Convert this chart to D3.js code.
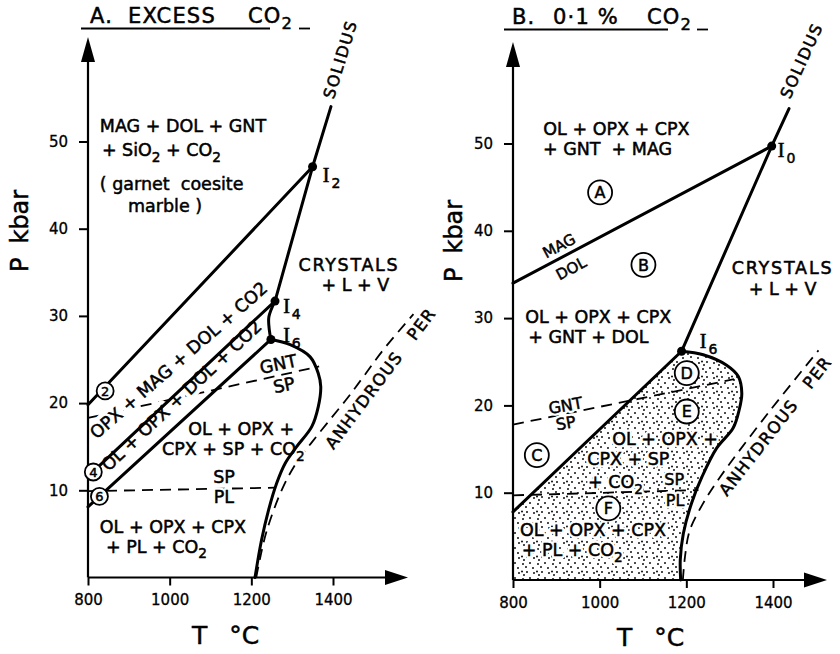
<!DOCTYPE html>
<html><head><meta charset="utf-8">
<script src="https://cdn.jsdelivr.net/npm/d3@7"></script>
<style>
body{margin:0;background:#fff}
svg{display:block;background:#fff}
text{font-family:"DejaVu Sans",sans-serif;fill:#000;white-space:pre}
.ink{stroke:#000;stroke-width:0.5}
.halo{fill:#fff;stroke:#fff;stroke-linejoin:round}
.solid{fill:none;stroke:#000;stroke-width:3;stroke-linejoin:round;stroke-linecap:round}
.dash{fill:none;stroke:#000;stroke-width:1.8;stroke-dasharray:11 7}
.ax{fill:none;stroke:#000;stroke-width:2.2}
</style></head><body>
<svg id="c" width="840" height="654"></svg>
<script>
// ---------- shared axes (T in °C, P in kbar) ----------
const tempTicks = [800, 1000, 1200, 1400];
const pressTicks = [10, 20, 30, 40, 50];

// ---------- A. excess CO2 ----------
const aSolidusUpper = [[1395, 54.0], [1350, 47.1], [1258, 31.7]];
const aSolidusKink  = [[1258, 31.7], [1243, 29.9], [1244, 28.4], [1248, 27.3]];
const aSolidusLower = [[1248, 27.3], [1295, 26.7], [1344, 25.3], [1364, 23.4], [1370, 21.9], [1364, 19.6],
                       [1348, 17.3], [1311, 15.0], [1283, 13.1], [1262, 10.8], [1242, 7.7], [1225, 4.3], [1209, 0]];
const aReaction2 = [[800, 19.8], [1350, 47.1]];
const aReaction4 = [[800, 11.6], [1258, 31.7]];
const aReaction6 = [[800, 8.1], [1248, 27.3]];
const aGntSp = [[800, 18.3], [1366, 24.2]];
const aSpPl  = [[800, 9.9], [1258, 10.3]];
const aAnhydrous = [[1212, 0], [1217, 1.2], [1238, 5.4], [1278, 10.4], [1315, 13.5], [1348, 15.5],
                    [1389, 17.9], [1434, 20.5], [1474, 23.0], [1523, 26.1], [1597, 30.2]];
const aInvariant = [{n: "2", T: 1350, P: 47.1, lT: 1375, lP: 45.4},
                    {n: "4", T: 1258, P: 31.7, lT: 1278, lP: 30.3},
                    {n: "6", T: 1248, P: 27.3, lT: 1278, lP: 27.0}];
const aCircled = [{t: "2", T: 842, P: 21.4}, {t: "4", T: 813, P: 12.1}, {t: "6", T: 828, P: 9.3}];
const aLabels = [
  {t: "MAG + DOL + GNT", T: 829, P: 51.1},
  {t: "+ SiO_2 + CO_2", T: 834, P: 48.3},
  {t: "( garnet  coesite", T: 829, P: 44.4},
  {t: "marble )", T: 898, P: 41.9},
  {t: "CRYSTALS", T: 1439, P: 35.1, a: "middle", ls: 1.7},
  {t: "+ L + V", T: 1455, P: 32.9, a: "middle"},
  {t: "OL + OPX +", T: 1175, P: 16.3, a: "middle"},
  {t: "CPX + SP + CO_2", T: 1156, P: 14.0, a: "middle"},
  {t: "SP", T: 1133, P: 10.8, a: "middle"},
  {t: "PL", T: 1133, P: 8.5, a: "middle"},
  {t: "OL + OPX + CPX", T: 829, P: 5.1},
  {t: "+ PL + CO_2", T: 844, P: 2.8},
  {t: "GNT", T: 1266, P: 24.5, a: "middle", mid: 1, r: -12},
  {t: "SP", T: 1280, P: 22.1, a: "middle", mid: 1, r: -12},
  {t: "OPX + MAG + DOL + CO2", T: 821, P: 15.8, r: -41, h: 9},
  {t: "OL + OPX + DOL + CO2", T: 850, P: 12.1, r: -43, h: 9},
  {t: "SOLIDUS", T: 1402, P: 54.8, r: -73, fs: 16, ls: 1.5},
  {t: "ANHYDROUS   PER", T: 1401, P: 14.6, r: -53, fs: 16.5, ls: 1.2, h: 3}
];

// ---------- B. 0.1 % CO2 ----------
const bSolidusUpper = [[1437, 54.0], [1397, 49.7], [1189, 26.2]];
const bSolidusLower = [[1189, 26.2], [1239, 25.8], [1293, 24.6], [1320, 23.3], [1328, 21.4], [1322, 19.5],
                       [1308, 17.4], [1270, 15.1], [1236, 11.8], [1212, 8.8], [1193, 5.3], [1186, 2.3], [1187, 0]];
const bMagDol = [[800, 34.0], [1397, 49.7]];
const bReactionC = [[800, 7.8], [1189, 26.2]];
const bGntSp = [[800, 17.8], [1310, 23.0]];
const bSpPl  = [[800, 9.7], [1228, 10.3]];
const bAnhydrous = [[1192, 0], [1197, 2.7], [1208, 5.7], [1239, 8.8], [1278, 11.8], [1390, 19.2], [1505, 26.3]];
const bInvariant = [{n: "0", T: 1397, P: 49.7, lT: 1411, lP: 48.5},
                    {n: "6", T: 1189, P: 26.2, lT: 1231, lP: 26.6}];
const bCircled = [{t: "A", T: 1001, P: 44.4}, {t: "B", T: 1101, P: 36.1}, {t: "C", T: 855, P: 14.3},
                  {t: "D", T: 1201, P: 23.7}, {t: "E", T: 1201, P: 19.3}, {t: "F", T: 1020, P: 8.2}];
const bLabels = [
  {t: "OL + OPX + CPX", T: 870, P: 51.0},
  {t: "+ GNT  + MAG", T: 869, P: 48.7},
  {t: "OL + OPX + CPX", T: 828, P: 29.4},
  {t: "+ GNT + DOL", T: 835, P: 27.1},
  {t: "CRYSTALS", T: 1422, P: 35.1, a: "middle", ls: 1.8},
  {t: "+ L + V", T: 1422, P: 32.7, a: "middle"},
  {t: "MAG", T: 906, P: 38.3, a: "middle", mid: 1, r: -28, fs: 15},
  {t: "DOL", T: 934, P: 35.7, a: "middle", mid: 1, r: -28, fs: 15},
  {t: "GNT", T: 921, P: 20.0, a: "middle", mid: 1, r: -10, fs: 16},
  {t: "SP", T: 922, P: 18.0, a: "middle", mid: 1, r: -10, fs: 16},
  {t: "OL + OPX +", T: 1151, P: 15.5, a: "middle"},
  {t: "CPX + SP", T: 1066, P: 13.2, a: "middle"},
  {t: "+ CO_2", T: 973, P: 10.5},
  {t: "SP", T: 1172, P: 10.9, a: "middle", fs: 16},
  {t: "PL", T: 1174, P: 8.5, a: "middle", fs: 16},
  {t: "OL + OPX + CPX", T: 816, P: 5.0},
  {t: "+ PL + CO_2", T: 820, P: 2.7},
  {t: "SOLIDUS", T: 1439, P: 55.0, r: -65.6, fs: 16, ls: 1.5},
  {t: "ANHYDROUS   PER", T: 1294, P: 9.5, r: -52, fs: 16.5, ls: 1.2, h: 3}
];

const svg = d3.select("#c");

// stipple used for the shaded field in panel B
const pat = svg.append("defs").append("pattern").attr("id", "stip")
  .attr("patternUnits", "userSpaceOnUse").attr("width", 15).attr("height", 15);
[[2, 2], [9, 3], [5, 8], [13, 9], [8, 13], [1, 12], [12, 1.5], [14, 5]].forEach(([cx, cy]) =>
  pat.append("circle").attr("cx", cx).attr("cy", cy).attr("r", 0.95).attr("fill", "#000"));

// text with "_n" marking a subscript digit
function rich(sel, str, fs) {
  const parts = str.split(/_(\d)/);
  let down = false;
  parts.forEach((p, i) => {
    if (i % 2 === 1) {
      sel.append("tspan").attr("font-size", fs * 0.78).attr("dy", fs * 0.3).text(p);
      down = true;
    } else if (p.length) {
      const t = sel.append("tspan").text(p);
      if (down) { t.attr("dy", -fs * 0.3); down = false; }
    }
  });
}

function panel(p) {
  const x = d3.scaleLinear().domain([800, 1400]).range(p.xr);
  const y = d3.scaleLinear().domain([0, 50]).range(p.yr);
  const g = svg.append("g");
  const straight = d3.line().x(d => x(d[0])).y(d => y(d[1]));
  const smooth = d3.line().x(d => x(d[0])).y(d => y(d[1])).curve(d3.curveCatmullRom.alpha(0.5));

  if (p.stipple) {
    const d = straight([[800, 0], ...p.stipple.edge]) + smooth(p.stipple.curve).replace(/^M/, "L") + "Z";
    g.append("path").attr("d", d).attr("fill", "url(#stip)");
  }
  p.dashed.forEach(pts => g.append("path").attr("class", "dash").attr("d", (pts.length > 2 ? smooth : straight)(pts)));

  // field labels: white halo layer under the boundaries, ink on top
  const haloLayer = g.append("g");
  p.lines.forEach(pts => g.append("path").attr("class", "solid").attr("d", straight(pts)));
  p.curves.forEach(pts => g.append("path").attr("class", "solid").attr("d", smooth(pts)));
  const inkLayer = g.append("g");
  p.labels.forEach(d => {
    const fs = d.fs || 17.5;
    const tr = `translate(${x(d.T)},${y(d.P)})` + (d.r ? ` rotate(${d.r})` : "");
    [[haloLayer, "halo"], [inkLayer, "ink"]].forEach(([layer, cls]) => {
      const t = layer.append("text").attr("class", cls).attr("transform", tr).attr("font-size", fs)
        .attr("text-anchor", d.a || "start").attr("dy", d.mid ? "0.36em" : null)
        .attr("letter-spacing", d.ls || null);
      if (cls === "halo") t.attr("stroke-width", d.h || 5);
      rich(t, d.t, fs);
    });
  });

  // axes
  const x0 = x(800), y0 = y(0);
  const ax = g.append("g").attr("transform", `translate(0,${y0})`)
    .call(d3.axisBottom(x).tickValues(tempTicks).tickSize(8).tickPadding(9).tickFormat(d3.format("d")));
  const ay = g.append("g").attr("transform", `translate(${x0},0)`)
    .call(d3.axisLeft(y).tickValues(pressTicks).tickSize(9).tickPadding(11));
  [ax, ay].forEach(a => {
    a.select(".domain").remove();
    a.attr("font-size", 15).attr("font-family", null);
    a.selectAll("line").attr("stroke-width", 2);
    a.selectAll("text").attr("stroke", "#000").attr("stroke-width", 0.3);
  });
  g.append("path").attr("class", "ax").attr("d", `M${x0},${y0}H${p.xTip - 18}M${x0},${y0}V${p.yTip + 20}`);
  g.append("path").attr("d", `M${p.xTip},${y0}L${p.xTip - 23},${y0 - 7.5}L${p.xTip - 23},${y0 + 7.5}Z`);
  g.append("path").attr("d", `M${x0},${p.yTip}L${x0 - 7},${p.yTip + 25}L${x0 + 7},${p.yTip + 25}Z`);

  // circled field markers
  p.circled.forEach(d => {
    const r = p.circR;
    g.append("circle").attr("cx", x(d.T)).attr("cy", y(d.P)).attr("r", r)
      .attr("fill", "#fff").attr("stroke", "#000").attr("stroke-width", 1.8);
    g.append("text").attr("class", "ink").attr("x", x(d.T)).attr("y", y(d.P)).attr("dy", "0.36em")
      .attr("text-anchor", "middle").attr("font-size", p.circFs).text(d.t);
  });

  // invariant points
  p.invariant.forEach(d => {
    g.append("circle").attr("cx", x(d.T)).attr("cy", y(d.P)).attr("r", 4.5).attr("fill", "#000");
    const t = g.append("text").attr("x", x(d.lT)).attr("y", y(d.lP));
    t.append("tspan").style("font-family", "'Liberation Serif',serif").attr("font-size", 20)
      .attr("stroke", "#000").attr("stroke-width", 0.6).text("I");
    t.append("tspan").attr("class", "ink").attr("font-size", 14).attr("dx", 2).attr("dy", 6).text(d.n);
  });

  // axis titles
  const tt = g.append("text").attr("class", "ink").attr("font-size", 25).attr("x", p.tx).attr("y", p.ty);
  tt.append("tspan").text("T");
  tt.append("tspan").attr("dx", 22).text("°C");
  const pt = g.append("text").attr("class", "ink").attr("font-size", 24)
    .attr("transform", `translate(${p.px},${p.py}) rotate(-90)`);
  pt.append("tspan").text("P");
  pt.append("tspan").attr("dx", 14).text("kbar");

  // panel heading
  p.head.forEach(h => {
    const t = g.append("text").attr("class", "ink").attr("font-size", 21).attr("x", h.x).attr("y", p.headY)
      .attr("letter-spacing", 1.2);
    rich(t, h.t, 21);
  });
  p.rules.forEach(([a, b]) => g.append("line").attr("x1", a).attr("x2", b)
    .attr("y1", p.headY + 5.5).attr("y2", p.headY + 5.5).attr("stroke", "#000").attr("stroke-width", 1.8));
}

panel({
  xr: [88, 333], yr: [577.5, 141.5], xTip: 408, yTip: 37,
  dashed: [aAnhydrous, aGntSp, aSpPl],
  lines: [aSolidusUpper, aReaction2, aReaction4, aReaction6],
  curves: [aSolidusKink, aSolidusLower],
  labels: aLabels, circled: aCircled, circR: 8.5, circFs: 13, invariant: aInvariant,
  tx: 192, ty: 644, px: 28, py: 272,
  headY: 23, head: [{t: "A.", x: 90}, {t: "EXCESS", x: 128}, {t: "CO_2", x: 248}],
  rules: [[81, 270], [299, 310]]
});

panel({
  xr: [513, 773], yr: [580, 143.5], xTip: 827, yTip: 42,
  stipple: {edge: bReactionC, curve: bSolidusLower},
  dashed: [bAnhydrous, bGntSp, bSpPl],
  lines: [bSolidusUpper, bMagDol, bReactionC],
  curves: [bSolidusLower],
  labels: bLabels, circled: bCircled, circR: 12, circFs: 16, invariant: bInvariant,
  tx: 617, ty: 646, px: 462, py: 282,
  headY: 24, head: [{t: "B.", x: 512}, {t: "0·1 %", x: 553}, {t: "CO_2", x: 647}],
  rules: [[504, 668], [697, 708]]
});
</script>
</body></html>
